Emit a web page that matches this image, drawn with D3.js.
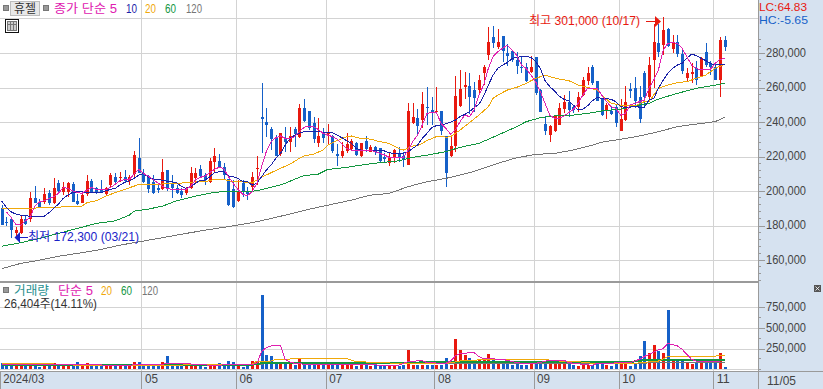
<!DOCTYPE html>
<html>
<head>
<meta charset="utf-8">
<script src="https://cdn.jsdelivr.net/npm/d3@7"></script>
<style>
html,body{margin:0;padding:0;background:#fff;overflow:hidden}
svg{display:block}
text{font-family:"Liberation Sans","Noto Sans CJK KR",sans-serif}
</style>
</head>
<body>
<script>
// prices are in thousand won, volumes in thousand shares
var opens=[189.9,182.1,183.5,175.8,175.4,183.5,183.5,195.7,193.5,193.5,
199,193.2,204.4,199.3,199.5,204,194.1,193.2,198,205.7,
201.5,200.9,198.2,203.4,207.9,207.7,207.9,205.9,209.8,218.9,
210.6,208.2,205.3,201.5,201.1,212.1,204.4,202,200.1,198.6,
202,207.3,212.5,209.2,205.3,216.9,217.5,214,206.7,200.9,
194.1,204.6,199.3,202.3,213,242.9,240,235.9,230.7,221.4,
230.1,228.4,235.9,231.3,248.1,246.4,239.4,227.8,233.6,233,
231.9,221.4,220.3,223.2,224.3,227.8,220.3,229,222.6,225.5,
224.9,219.7,216.2,219.1,222,220.3,215,239.4,242.3,241.1,
248.7,247,245.8,246.4,231.9,220.3,226.1,249.3,260.3,260.9,
258.5,258.5,268.4,278.8,289.3,283.5,289.9,280,281.2,275.9,
271.9,271.9,269,277.7,258.5,238.8,232.4,234.8,238.2,247.5,
251.6,248.7,248.7,255.6,263.8,271.9,263.8,253.3,246.9,246.4,
248.7,234.8,241.1,259.1,259.7,254.5,268.4,254.5,275.9,285.8,
284.6,293.9,282.3,286.4,279.4,265.5,267.8,271.3,266.7,280.6,
274.2,271.9,264.3,287.5];
var highs=[191.8,184.7,184,178.9,186,186,199.5,202.8,195.1,201.5,
200.5,207.3,206.3,205.3,205.3,205.3,198.2,198,209.2,206.7,
202.4,206.3,202.4,210.2,210.2,211.1,212.1,209.2,223.1,231,
212.5,209.2,209.2,203.4,218.5,212.1,209.2,203.4,201.5,202.4,
214,213.1,215,210.6,218.9,224.7,221.4,216,206.7,206.3,
206.3,206.3,202.2,210.9,220.3,262.6,248.1,237.1,232.4,233.6,
237.1,237.1,237.1,250.4,253.3,246.4,242.9,242.3,236.5,238.8,
232.4,227.2,228.4,233.6,230.1,228.4,227.8,231.9,226.6,226,
224.9,222,222,224.3,225.5,222.6,251,251,247.5,257.4,
260.3,254.5,260.3,246.4,231.9,231.3,266.7,270.1,269,268.4,
263.2,267.2,273,295.1,295.7,293.9,289.9,285.2,281.7,280.6,
277.7,274.2,278.3,277.7,259.1,243.5,238.2,244,251,255.6,
258,249.8,257.4,266.1,271.9,273,263.8,253.9,251,248.7,
249.8,253.3,260.9,262.6,266.1,260.9,269.6,277.7,296.8,296.8,
301,294.5,290.4,290.4,281.7,271.3,274.2,275.4,277.7,285.8,
275.4,274.8,289.3,289.9];
var lows=[180.2,179.6,172.5,172.3,175,180.2,182.1,192.8,190.4,192.4,
191.8,192.4,199.5,197.6,196.6,193.7,191.8,192.8,197.2,198.6,
198.2,198.6,197.6,202.4,204.8,205.3,205.3,203.4,208.2,210.2,
204.4,198.6,198,198.6,200.5,200.1,195.7,198.2,195.7,197.6,
200.9,204.4,207.3,203.4,204.4,211.1,213.1,206.3,191.2,190.4,
193.7,196.6,194.7,200.5,203.4,222,231.3,223.7,220.3,220.3,
222.6,222.6,225.5,230.7,240,235.3,227.8,225.5,227.8,227.2,
222,214.5,219.1,222,223.7,220.3,220,222.6,222.4,220.8,
216.2,216.8,214.5,216.2,216.8,213.9,215,238.8,233,236.5,
238.2,238.2,245.2,232.4,202.3,219.7,222.6,248.7,253.3,244.6,
245.8,255.6,261.4,275.9,282.9,282.3,274.8,272.5,274.8,267.8,
268.4,263.2,268.4,255.6,245.8,232.4,228.4,234.2,238.2,245.2,
242.9,245.2,245.8,255,261.4,261.4,252.2,243.5,241.7,244,
237.1,234.8,240.6,253.9,248.1,239.4,249.3,251.6,259.7,277.7,
278.8,283.5,280,277.7,267.8,263.2,262.6,261.4,266.1,271.9,
267.2,264.3,254.5,281.2];
var closes=[180.2,181.2,177.3,177.3,183.5,180.8,195.7,192.8,190.8,198.2,
193.2,202,200.1,202.4,204.4,193.7,192.4,197.6,205.9,199.5,
199,199,202,209.2,205.3,208.2,205.9,208,220.6,210.6,
205.3,200.9,198.6,200.5,210.9,200.9,201.5,198.6,197.6,202,
210.6,210.2,208.6,206.3,217.3,220.4,213.7,209.2,191.8,190.8,
199.5,199.3,198.2,208.1,213.3,241.7,238.2,230.1,220.3,233.6,
228.4,231.9,233,248.1,240.6,236.5,230.1,231.9,230.7,234.2,
223.2,220.3,223.2,227.2,229,220.8,227.8,224.3,225.5,222.6,
217.4,218.5,219.1,223.7,219.7,217.9,246.4,242.9,237.7,250.4,
248.1,245.2,246.4,234.8,210.4,226.1,255.1,259.1,261.4,254.5,
253.9,264.3,271.9,286.4,285.8,286.4,281.2,278.3,275.9,272.5,
271.3,263.8,271.9,256.8,245.8,234.8,237.7,243.5,248.1,251.6,
246.9,246.9,254.5,264.3,268.4,262.6,252.2,244,249.8,244.6,
239.4,241.7,251.6,258,252.2,241.7,254.5,273,286.4,280.6,
293.3,284.1,286.4,279.4,269.6,268.4,269,264.3,277.1,273,
271.9,264.3,287.5,283.5];
var volumes=[77,36,48,36,56,56,56,56,32,56,
56,81,56,48,48,48,93,56,81,44,
56,56,56,56,44,48,48,56,93,93,
56,48,48,36,93,165,64,56,56,44,
48,48,48,32,56,36,77,48,105,85,
48,32,56,97,97,899,175,165,72,88,
88,77,48,121,56,48,56,88,56,64,
56,56,56,48,48,36,56,56,36,48,
48,48,36,36,44,56,230,56,56,56,
56,56,56,56,133,56,363,230,167,137,
117,117,117,185,113,97,97,77,56,77,
48,56,77,77,97,97,77,117,77,77,
77,56,44,64,48,48,105,77,48,44,
64,89,89,44,77,165,343,193,290,222,
201,713,100,129,100,89,60,72,100,100,
80,129,201,26.4];

// price moving averages read bar by bar
var ma5=[null,187.9,184.7,180.6,180.2,182.7,184.7,191.2,193.7,194.3,
195.7,196.6,198.6,202,201.5,200.1,199.2,198.6,200.5,202,
200.9,200.9,200.9,202,203.8,205.9,206.7,206.7,209.8,212.5,
210.2,208.6,206.7,204.8,202.8,201.5,200.9,200.9,200.9,200.9,
202.8,206.3,207.9,208.6,210.6,212.5,213.7,213.1,208.2,204.4,
200.9,198.2,197.2,199.6,204.4,214.1,222.8,228.6,230.9,231.9,
230.5,230.5,231.5,234.4,236.9,237.7,237.3,235.7,233.4,232.4,
231.5,230.1,227.2,224.7,223.7,223.4,223.7,223.7,223.7,222.8,
221.8,220.9,219.5,219.5,219.5,219.5,223.7,228.6,232.4,238.2,
245,245.4,245.6,239.2,236.3,233,235.4,240.2,244,243.1,
247,255.6,261.4,271.1,277.9,280.8,282.7,284.6,281.7,278.8,
273,271.1,267.2,263.4,257.6,250.8,244,242.1,242.1,243.5,
245.4,247.3,250.8,255.6,259.5,259.5,259.5,255.6,251.8,248.9,
247.9,244,245,249.8,250.8,251.8,252.7,259.5,264.3,270.2,
281.7,285.6,286,285.6,282.7,277.9,273,271.1,270.2,270.2,
270.5,274,276.3,276.9];
var ma10=[194.1,190.5,187.9,186.6,186,185.6,185.4,185.4,185.4,185.4,
187.4,189.9,192.4,195.7,197.6,199.2,199.5,199.5,199,199,
199,199,200.1,200.9,201.5,203.4,205,205.9,207.3,209.2,
210.2,208.2,206.9,206.7,206.3,205.7,205.3,204.8,202.8,201.5,
202.4,204.4,206.3,206.3,208.2,210.6,211.1,211.1,208.6,208.3,
207.3,205.4,205.4,203.4,204.4,208.3,212.1,215,218.9,221.8,
226.6,230.5,232.4,233.4,234.4,234.4,234.4,234.4,234,234,
233.8,232.4,230.9,229.2,227.6,224.7,223.7,223.7,223.4,223.7,
223.4,223.2,222.2,221.8,221.8,221.8,222.8,224.7,226.6,230.5,
233.4,236.7,237.9,238.4,239,239.8,241.1,243.1,244.4,246,
248.3,250.2,255,261.4,267.2,271.1,273,274.4,276.7,277.5,
277.9,277.9,277.5,275,271.1,264,260.5,258,255,253.1,
252.2,249.8,247,247.5,249.4,252.2,254.3,253.7,253.7,253.1,
251.8,248.9,248.5,248.5,249.3,248.5,248.5,252.7,253.7,259.5,
264.3,268.2,271.1,273,274,276.9,279.4,278.5,276.9,275.6,
274,273,273.4,273.6];

// slower averages read at the bars where they bend
var ma20Bars=[0,6,9,14,17,18,20,22,24,26,28,29,31,33,35,37,39,41,43,45,47,49,51,53,54,55,57,59,61,63,64,66,68,69,71,73,74,76,78,80,82,84,85,87,88,90,92,93,94,95,97,99,101,103,104,105,107,109,111,113,115,116,118,120,122,124,126,127,129,132,134,136,137,139,141,143,145,147,149,151,153];
var ma20=[189.9,189.9,190.5,190.8,191.2,193.2,194.3,197,199,200.9,202.8,203.8,204,203.8,204.4,204.4,204.8,205.3,205.3,206.7,206.7,205.3,205.3,204.8,206.3,207.9,210.6,213.1,215.6,218.9,220.3,221.4,223.7,226.6,229.2,231.5,231.9,230.5,230.1,228.6,227.6,224.7,223.7,226.1,226.1,229.2,231.5,231.9,231.1,231.5,235.3,239.6,244,248.9,253.7,255.6,258.5,260.1,262.4,265.3,267.2,266.3,264.9,264,261.4,260.1,258.5,255.6,250.8,249.3,249.3,251.8,251.8,259.5,261.4,262.8,263.4,265.3,267.2,271.1,273.4];
var ma60Bars=[0,4,8,12,16,20,24,27,28,31,34,37,39,42,45,48,51,54,56,58,60,62,64,67,69,73,77,80,84,87,90,94,97,101,105,109,111,114,117,121,125,127,131,135,137,139,143,147,150,153];
var ma60=[168,170,172.5,175.4,178.3,181.2,182.7,186,188.3,189.5,191.2,194.3,195.7,197.6,199.2,199.9,199.5,200.1,201.5,202.8,204.4,206.9,208.9,209.8,212.5,213.7,215.4,216.4,217.5,219.5,220.8,222.8,225.3,227.6,232.4,237.3,240.2,242.5,243.5,244,245.4,246.4,247.5,249.8,250.8,253.3,256.6,259.5,260.9,262.4];
var ma120Bars=[0,4,8,12,17,21,25,29,35,39,44,49,53,58,66,74,78,82,86,90,94,99,105,109,113,117,121,125,127,131,135,139,143,147,151,153];
var ma120=[155,158,159.9,162.2,164.2,166.1,168.6,170.5,173.4,175.4,177.7,179.8,181.6,184.7,190,194.7,197.6,198.6,202.5,205.4,207.3,210.6,216,219.3,221.2,221.8,223.8,226.6,228.3,230,231.9,234.4,237.3,238.8,240.2,242.7];

// volume averages
var volMa5Bars=[0,20,23,27,28,34,35,37,39,41,44,46,48,51,53,54,55,56,57,59,60,61,62,64,70,73,78,80,84,85,86,87,88,89,90,94,95,96,97,100,101,102,106,108,110,113,116,119,120,123,125,126,133,135,136,139,140,141,143,144,146,147,152];
var volMa5=[60,58,42,42,58,60,72,75,68,60,50,48,60,60,60,68,214,262,282,286,121,89,72,62,60,60,60,48,48,72,93,93,105,105,80,72,100,161,193,201,153,129,121,93,72,72,109,109,80,60,48,72,80,121,153,234,250,314,282,242,121,100,93];
var volMa20Bars=[0,8,19,22,30,33,50,53,54,57,58,63,73,75,85,94,97,102,115,118,122,125,134,139,141,148,153];
var volMa20=[73,73,40,40,48,48,60,60,100,100,117,129,129,93,69,69,100,117,117,100,93,72,72,100,153,153,165];
var volMa60Bars=[0,53,55,84,96,118,133,136,153];
var volMa60=[56,56,72,76,93,93,89,109,109];
var volMa120Bars=[0,54,56,120,153];
var volMa120=[56,56,69,72,80];

var monthBars=[0,30,50,69,92,113,131,151];
var monthLabels=["2024/03","05","06","07","08","09","10","11"];
var lastDate="11/05";
var priceTicks=[160,180,200,220,240,260,280];
var volTicks=[250,500,750];

var w=823, h=389;
var red="#e8190f", blue="#1560c8";
var gridColor="#d3d3d3", panelColor="#d6e2f0", edgeColor="#9a9a9a";

var svg=d3.select("body").append("svg").attr("width",w).attr("height",h);

var x=d3.scaleLinear().domain([0,153]).range([1.7,724.6]);
var y=d3.scaleLinear().domain([160,280]).range([260,53]);
var yVol=d3.scaleLinear().domain([0,750]).range([369.3,307.2]);

// right and bottom panels
svg.append("rect").attr("x",758).attr("y",0).attr("width",w-758).attr("height",h).attr("fill",panelColor);
svg.append("rect").attr("x",0).attr("y",371).attr("width",w).attr("height",h-371).attr("fill",panelColor);

var gridG=svg.append("g").attr("shape-rendering","crispEdges").attr("stroke",gridColor);
// grid, one more line for 300,000 which has no label
[160,180,200,220,240,260,280,300].forEach(function(d){
	gridG.append("line").attr("x1",0).attr("x2",758).attr("y1",Math.round(y(d))+0.5).attr("y2",Math.round(y(d))+0.5);
});
volTicks.concat([0]).forEach(function(d){
	gridG.append("line").attr("x1",0).attr("x2",758).attr("y1",Math.round(yVol(d))+0.5).attr("y2",Math.round(yVol(d))+0.5);
});
monthBars.slice(1).forEach(function(b){
	gridG.append("line").attr("x1",Math.round(x(b)-2)+0.5).attr("x2",Math.round(x(b)-2)+0.5).attr("y1",0).attr("y2",371);
});

// candles
var bars=d3.range(closes.length);
function isUp(i){ return closes[i]>=opens[i]; }
function barX(i){ return Math.round(x(i)); }

var candles=svg.append("g").attr("shape-rendering","crispEdges");
candles.selectAll("line").data(bars).enter().append("line")
	.attr("x1",function(i){ return barX(i)+0.5; })
	.attr("x2",function(i){ return barX(i)+0.5; })
	.attr("y1",function(i){ return y(highs[i]); })
	.attr("y2",function(i){ return y(lows[i]); })
	.attr("stroke",function(i){ return isUp(i)?red:blue; });
candles.selectAll("rect").data(bars).enter().append("rect")
	.attr("x",function(i){ return barX(i)-1; })
	.attr("width",3)
	.attr("y",function(i){ return y(Math.max(opens[i],closes[i])); })
	.attr("height",function(i){ return Math.max(1,Math.abs(y(opens[i])-y(closes[i]))); })
	.attr("fill",function(i){ return isUp(i)?red:blue; });

// volume bars
svg.append("g").attr("shape-rendering","crispEdges")
	.selectAll("rect").data(bars).enter().append("rect")
	.attr("x",function(i){ return barX(i)-1; })
	.attr("width",3)
	.attr("y",function(i){ return yVol(volumes[i]); })
	.attr("height",function(i){ return yVol(0)-yVol(volumes[i]); })
	.attr("fill",function(i){ return isUp(i)?red:blue; });

function drawLine(xs,ys,scale,color,width){
	var line=d3.line()
		.defined(function(d){ return d[1]!==null; })
		.x(function(d){ return x(d[0]); })
		.y(function(d){ return scale(d[1]); });
	svg.append("path")
		.attr("d",line(xs.map(function(b,k){ return [b,ys[k]]; })))
		.attr("fill","none")
		.attr("stroke",color)
		.attr("stroke-width",width)
		.attr("shape-rendering","crispEdges");
}

var magenta="#e020b0", navy="#1a22a8", orange="#f0a80a", green="#12963f", gray="#757575";

drawLine(ma120Bars,ma120,y,gray,1);
drawLine(ma60Bars,ma60,y,green,1);
drawLine(ma20Bars,ma20,y,orange,1);
drawLine(bars,ma10,y,navy,1);
drawLine(bars,ma5,y,magenta,1);

drawLine(volMa120Bars,volMa120,yVol,gray,1);
drawLine(volMa60Bars,volMa60,yVol,green,2);
drawLine(volMa20Bars,volMa20,yVol,orange,1);
drawLine(volMa5Bars,volMa5,yVol,magenta,1);

// frame lines
var frame=svg.append("g").attr("shape-rendering","crispEdges").attr("stroke",edgeColor);
frame.append("line").attr("x1",0).attr("x2",758).attr("y1",281.5).attr("y2",281.5).attr("stroke-width",2);
frame.append("line").attr("x1",758.5).attr("x2",758.5).attr("y1",0).attr("y2",h);
frame.append("line").attr("x1",0).attr("x2",w).attr("y1",371.5).attr("y2",371.5);

// right axes
var axisColor="#444";
function styleAxis(g){
	g.select(".domain").remove();
	g.selectAll("line").attr("stroke",edgeColor).attr("shape-rendering","crispEdges");
	g.selectAll("text")
		.attr("x",8).attr("y",-1).attr("fill",axisColor)
		.attr("font-size",13)
		.attr("font-family","Liberation Sans")
		.attr("textLength",40)
		.attr("lengthAdjust","spacingAndGlyphs");
}
var won=function(d){ return d3.format(",")(d*1000); };
svg.append("g").attr("transform","translate(758,0)")
	.call(d3.axisRight(y).tickValues(priceTicks).tickSize(7).tickPadding(0).tickFormat(won))
	.call(styleAxis);
svg.append("g").attr("transform","translate(758,0)")
	.call(d3.axisRight(yVol).tickValues(volTicks).tickSize(7).tickPadding(0).tickFormat(won))
	.call(styleAxis);

// minor ticks of both axes
var minor=svg.append("g").attr("shape-rendering","crispEdges").attr("stroke",edgeColor);
d3.range(148,292,4).forEach(function(d){
	if(d%20!=0 && y(d)>28) minor.append("line").attr("x1",758).attr("x2",761).attr("y1",y(d)).attr("y2",y(d));
});
[0,125,375,625].forEach(function(d){
	minor.append("line").attr("x1",758).attr("x2",761).attr("y1",yVol(d)).attr("y2",yVol(d));
});

// bottom axis
var xAxis=d3.axisBottom(x).tickValues(monthBars).tickSize(18).tickPadding(0)
	.tickFormat(function(d,i){ return monthLabels[i]; });
var xg=svg.append("g").attr("transform","translate(-2,371)").call(xAxis);
xg.select(".domain").remove();
xg.selectAll("line").attr("stroke",edgeColor).attr("shape-rendering","crispEdges");
xg.selectAll("text")
	.attr("text-anchor","start").attr("x",3).attr("y",3).attr("dy","0.71em")
	.attr("fill",axisColor).attr("font-size",13).attr("font-family","Liberation Sans")
	.attr("textLength",function(d,i){ return i==0?41:13; })
	.attr("lengthAdjust","spacingAndGlyphs");
svg.append("text").text(lastDate).attr("x",767).attr("y",385)
	.attr("fill",axisColor).attr("font-size",13).attr("font-family","Liberation Sans")
	.attr("textLength",29).attr("lengthAdjust","spacingAndGlyphs");

// labels
function label(str,px,py,color,len,size){
	return svg.append("text").text(str).attr("x",px).attr("y",py)
		.attr("fill",color).attr("font-size",size||12)
		.attr("textLength",len).attr("lengthAdjust","spacingAndGlyphs");
}
function marker(px,py){
	svg.append("rect").attr("x",px).attr("y",py).attr("width",5).attr("height",5)
		.attr("fill","#999").attr("stroke","#777").attr("shape-rendering","crispEdges");
}

marker(3,5);
svg.append("rect").attr("x",10.5).attr("y",1.5).attr("width",29).attr("height",14)
	.attr("fill","#e8e8e8").attr("stroke","#bdbdbd").attr("shape-rendering","crispEdges");
label("휴젤",14,13,"#333",22);
marker(43,5);
label("종가 단순 5",54,13,magenta,63);
label("10",126,13,navy,11);
label("20",145,13,orange,11);
label("60",165,13,green,11);
label("120",186,13,gray,16);

// table icon
var icon=svg.append("g").attr("shape-rendering","crispEdges");
icon.append("rect").attr("x",5.5).attr("y",19.5).attr("width",13).attr("height",13).attr("fill","#fff").attr("stroke","#111");
icon.append("rect").attr("x",7.5).attr("y",21.5).attr("width",9).attr("height",9).attr("fill","#ccc").attr("stroke","#777");
[10.5,13.5].forEach(function(v){
	icon.append("line").attr("x1",v).attr("x2",v).attr("y1",21).attr("y2",31).attr("stroke","#777");
});
icon.append("line").attr("x1",7).attr("x2",17).attr("y1",24.5).attr("y2",24.5).attr("stroke","#777");

label("LC:64.83",759,11,"#e8190f",48,11);
label("HC:-5.65",759,24,"#1560c8",49,11);

// high and low notes
label("최고 301,000 (10/17)",529,25,"#e8190f",111);
svg.append("line").attr("x1",646).attr("x2",656).attr("y1",21.5).attr("y2",21.5).attr("stroke","#e8190f");
svg.append("path").attr("d","M655,16L661,21.5L655,27Z").attr("fill","#e8190f");
label("최저 172,300 (03/21)",28,241,"#1a22c8",111);
svg.append("line").attr("x1",19).attr("x2",28).attr("y1",237.5).attr("y2",237.5).attr("stroke","#1a22c8");
svg.append("path").attr("d","M14.5,237.5L20,232L20,243Z").attr("fill","#1a22c8");

// volume labels
marker(3,287);
label("거래량",14,295,"#2a9090",35);
label("단순 5",58,295,magenta,35);
label("20",101,295,orange,11);
label("60",121,295,green,11);
label("120",142,295,gray,16);
label("26,404주(14.11%)",4,308,"#333",93);

// small resize button
var btn=svg.append("g");
btn.append("rect").attr("x",814).attr("y",285).attr("width",7).attr("height",7).attr("fill","#555");
btn.append("path").attr("d","M815.5,286.5L819.5,290.5M819.5,286.5L815.5,290.5").attr("stroke","#fff").attr("stroke-width",0.8);
</script>
</body>
</html>
